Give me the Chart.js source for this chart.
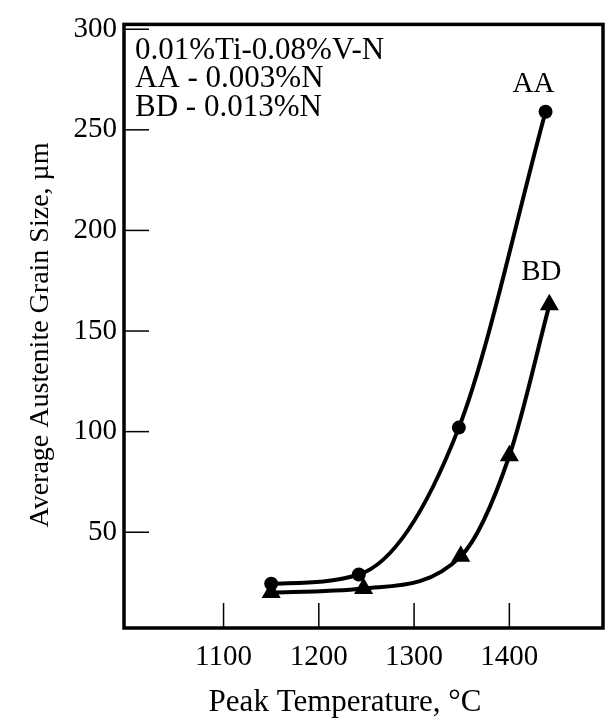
<!DOCTYPE html>
<html><head><meta charset="utf-8">
<script src="https://cdn.jsdelivr.net/npm/chart.js@4.4.0/dist/chart.umd.min.js"></script>
<style>html,body{margin:0;padding:0;background:#fff}#wrap{width:614px;height:721px;position:relative}</style>
</head><body><div id="wrap"><canvas id="c" width="614" height="721"></canvas></div>
<script>
const temperaturesAA = [1150, 1242, 1347, 1438];
const grainSizeAA = [24.4, 29, 102, 259];
const temperaturesBD = [1150, 1247, 1349, 1400, 1442];
const grainSizeBD = [20, 22, 38, 88, 163];
const xTickValues = [1100, 1200, 1300, 1400];
const yTickValues = [50, 100, 150, 200, 250, 300];
const noteLines = ['0.01%Ti-0.08%V-N', 'AA - 0.003%N', 'BD - 0.013%N'];
const seriesNames = ['AA', 'BD'];
const xTitle = 'Peak Temperature, \u00B0C';
const yTitle = 'Average Austenite Grain Size, \u00B5m';

const SERIF = "'Liberation Serif', 'Times New Roman', serif";

const framePlugin = {
  id: 'framePlugin',
  afterDraw(chart) {
    const {ctx, chartArea: a, scales} = chart;
    ctx.save();
    ctx.strokeStyle = '#000';
    ctx.lineWidth = 1.5;
    xTickValues.forEach(v => {
      const px = scales.x.getPixelForValue(v);
      ctx.beginPath(); ctx.moveTo(px, a.bottom); ctx.lineTo(px, a.bottom - 25); ctx.stroke();
    });
    yTickValues.forEach(v => {
      const py = scales.y.getPixelForValue(v);
      if (py - a.top < 4) return;
      ctx.beginPath(); ctx.moveTo(a.left, py); ctx.lineTo(a.left + 25, py); ctx.stroke();
    });
    ctx.lineWidth = 3.5;
    ctx.strokeRect(a.left, a.top, a.right - a.left, a.bottom - a.top);
    ctx.fillStyle = '#000';
    ctx.textBaseline = 'middle';
    ctx.textAlign = 'left';
    ctx.font = '31px ' + SERIF;
    noteLines.forEach((t, i) => ctx.fillText(t, a.left + 11, a.top + 26 + i * 28.5));
    ctx.textAlign = 'center';
    ctx.font = '29px ' + SERIF;
    const mAA = chart.getDatasetMeta(0).data;
    const mBD = chart.getDatasetMeta(1).data;
    const pA = mAA[mAA.length - 1], pB = mBD[mBD.length - 1];
    ctx.fillText(seriesNames[0], pA.x - 12, pA.y - 27);
    ctx.fillText(seriesNames[1], pB.x - 8, pB.y - 32);
    ctx.font = '31px ' + SERIF;
    ctx.fillText(xTitle, 345, 703);
    ctx.save();
    ctx.translate(41, 335);
    ctx.rotate(-Math.PI / 2);
    ctx.font = '28px ' + SERIF;
    ctx.fillText(yTitle, 0, 0);
    ctx.restore();
    ctx.restore();
  }
};

new Chart(document.getElementById('c'), {
  type: 'scatter',
  data: {
    datasets: [
      {
        label: seriesNames[0],
        data: temperaturesAA.map((x, i) => ({x, y: grainSizeAA[i]})),
        showLine: true,
        cubicInterpolationMode: 'monotone',
        borderColor: '#000', backgroundColor: '#000',
        borderWidth: 4,
        pointStyle: 'circle', pointRadius: 7, pointBorderWidth: 0,
        clip: false
      },
      {
        label: seriesNames[1],
        data: temperaturesBD.map((x, i) => ({x, y: grainSizeBD[i]})),
        showLine: true,
        cubicInterpolationMode: 'monotone',
        borderColor: '#000', backgroundColor: '#000',
        borderWidth: 4,
        pointStyle: 'triangle', pointRadius: 11, pointBorderWidth: 0,
        clip: false
      }
    ]
  },
  options: {
    responsive: false,
    animation: false,
    layout: {padding: {left: 0, right: 9, top: 13, bottom: 0}},
    plugins: {legend: {display: false}, tooltip: {enabled: false}},
    scales: {
      x: {
        type: 'linear', min: 995.5, max: 1498.3,
        grid: {display: false, drawTicks: false},
        border: {display: false},
        afterBuildTicks: s => { s.ticks = xTickValues.map(v => ({value: v})); },
        afterFit: s => { s.height = 93; },
        ticks: {color: '#000', font: {family: SERIF, size: 29}, padding: 12, maxRotation: 0, autoSkip: false,
                callback: v => String(v)}
      },
      y: {
        type: 'linear', min: 2.4, max: 302.4,
        grid: {display: false, drawTicks: false},
        border: {display: false},
        afterBuildTicks: s => { s.ticks = yTickValues.map(v => ({value: v})); },
        afterFit: s => { s.width = 124; },
        ticks: {color: '#000', font: {family: SERIF, size: 29}, padding: 7, autoSkip: false,
                callback: v => String(v)}
      }
    }
  },
  plugins: [framePlugin]
});
</script>
</body></html>
